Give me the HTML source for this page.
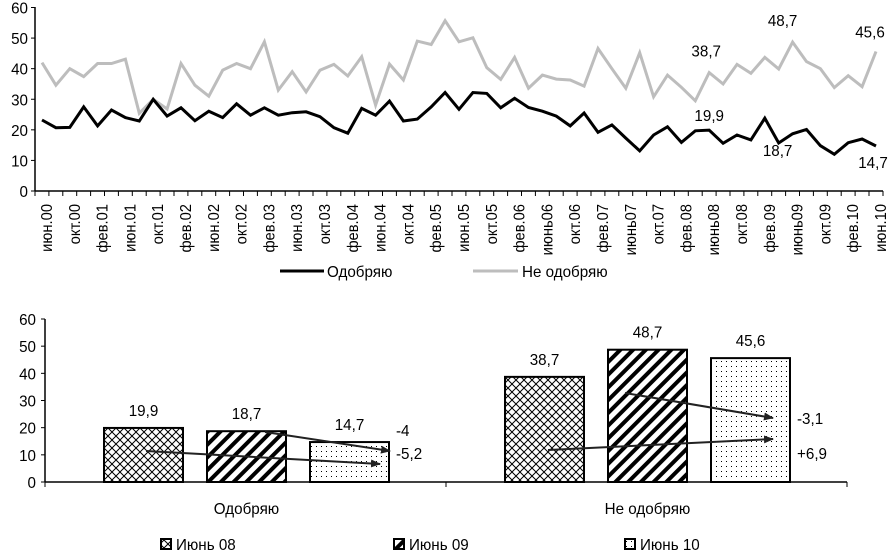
<!DOCTYPE html>
<html><head><meta charset="utf-8">
<style>
html,body{margin:0;padding:0;background:#fff;}
svg{display:block;font-family:"Liberation Sans",sans-serif;}
</style></head>
<body>
<svg id="c" width="888" height="554" viewBox="0 0 888 554" xmlns="http://www.w3.org/2000/svg">
<defs>
<pattern id="pX" width="8" height="8" patternUnits="userSpaceOnUse"><rect width="8" height="8" fill="#fff"/><path d="M0 0L8 8M8 0L0 8" stroke="#000" stroke-width="1"/></pattern>
<pattern id="pD" width="9" height="9" patternUnits="userSpaceOnUse" patternTransform="rotate(45)"><rect width="9" height="9" fill="#fff"/><rect width="4" height="9" fill="#000"/></pattern>
<pattern id="pS" width="5" height="5" patternUnits="userSpaceOnUse"><rect width="5" height="5" fill="#fff"/><rect x="1" y="1" width="1" height="1" fill="#000"/></pattern>
<marker id="ar" markerWidth="10" markerHeight="8" refX="9" refY="4" orient="auto" markerUnits="userSpaceOnUse"><path d="M0 0L10 4L0 8z" fill="#222"/></marker>
</defs>
<g id="topChart"></g>
<g id="botChart"></g>
</svg>
<script>
const months = ["июн.00","окт.00","фев.01","июн.01","окт.01","фев.02","июн.02","окт.02","фев.03","июн.03","окт.03","фев.04","июн.04","окт.04","фев.05","июн.05","окт.05","фев.06","июнь06","окт.06","фев.07","июнь07","окт.07","фев.08","июнь08","окт.08","фев.09","июнь09","окт.09","фев.10","июн.10"];
const approve = [23.2,20.7,20.8,27.5,21.3,26.5,24,22.9,30,24.5,27.2,23,26.1,24,28.5,24.8,27.2,24.8,25.6,25.9,24.3,20.7,18.9,27,24.8,29.4,22.9,23.5,27.5,32.2,26.7,32.2,31.9,27.2,30.3,27.3,26.1,24.5,21.3,25.5,19.2,21.6,17.3,13.1,18.3,21,15.9,19.7,19.9,15.6,18.3,16.7,23.8,15.7,18.7,20.1,14.8,12,15.8,17,14.7];
const disapprove = [42,34.6,40,37.4,41.7,41.7,43.1,25.4,30,26.8,41.7,34.6,31,39.5,41.7,40,48.8,33,39,32.4,39.5,41.4,37.6,43.9,28.1,41.5,36.3,49,47.9,55.7,48.8,50.1,40.3,36.5,43.7,33.6,37.9,36.6,36.3,34.3,46.6,40,33.6,45.2,30.8,37.9,33.9,29.5,38.7,35,41.4,38.5,43.7,39.9,48.7,42.3,40,33.8,37.7,34.1,45.6];
const yTicks = [0,10,20,30,40,50,60];
const callouts = [[48,"approve","19,9",0,-9],[54,"approve","18,7",-15,22],[60,"approve","14,7",-3,22],[48,"disapprove","38,7",-3,-16],[54,"disapprove","48,7",-10,-16],[60,"disapprove","45,6",-6,-14]];
const groups = ["Одобряю","Не одобряю"];
const periods = ["Июнь 08","Июнь 09","Июнь 10"];
const barApprove = [19.9,18.7,14.7];
const barDisapprove = [38.7,48.7,45.6];
const changes = ["-4","-5,2","-3,1","+6,9"];

const NS="http://www.w3.org/2000/svg";
const SX=0.95;
function mk(p,t,a,txt){const e=document.createElementNS(NS,t);for(const k in a)e.setAttribute(k,a[k]);if(txt!==undefined)e.textContent=txt;p.appendChild(e);return e;}
function txt(p,x,y,s,anchor,size,rot,sx){
  const k=sx||SX;
  const tr=rot?`translate(${x},${y}) rotate(-90) scale(${k},1)`:`translate(${x},${y}) scale(${k},1)`;
  return mk(p,'text',{x:0,y:0,transform:tr,'text-anchor':anchor||'start','font-size':size||16},s);
}
const topG=document.getElementById('topChart'), botG=document.getElementById('botChart');

// TOP CHART
const n=approve.length;
const tx=i=>42+i*(876-42)/(n-1);
const ty=v=>191-v*(191-7.5)/60;
let e;
e=mk(topG,'line',{x1:35,y1:7,x2:35,y2:191,stroke:'#000','stroke-width':1.5});


e=mk(topG,'line',{x1:35,y1:191,x2:883,y2:191,stroke:'#000','stroke-width':1.5});


yTicks.forEach(v=>{
  mk(topG,'line',{x1:31,x2:35,y1:ty(v),y2:ty(v),stroke:'#000'});
  e=txt(topG,28,ty(v)+6,String(v),'end',16);
  
  
});
for(let i=0;i<n;i++){const x=tx(i)-7;mk(topG,'line',{x1:x,x2:x,y1:191,y2:196,stroke:'#000'});}
mk(topG,'line',{x1:883,x2:883,y1:191,y2:196,stroke:'#000'});
months.forEach((m,k)=>{
  const x=tx(k*2)+10;
  e=txt(topG,x,204,m,'end',16,true,0.92);
  
  
});
const pts=arr=>arr.map((v,i)=>tx(i).toFixed(1)+','+ty(v).toFixed(1)).join(' ');
e=mk(topG,'polyline',{points:pts(disapprove),fill:'none',stroke:'#bdbdbd','stroke-width':3});


e=mk(topG,'polyline',{points:pts(approve),fill:'none',stroke:'#000','stroke-width':3});


callouts.forEach(c=>{
  const arr=c[1]==='approve'?approve:disapprove;
  e=txt(topG,tx(c[0])+c[3],ty(arr[c[0]])+c[4],c[2],'middle',16);
  
  
});
mk(topG,'line',{x1:280,x2:324,y1:271,y2:271,stroke:'#000','stroke-width':3});
e=txt(topG,327,277,'Одобряю','start',16);


mk(topG,'line',{x1:473,x2:518,y1:271,y2:271,stroke:'#bdbdbd','stroke-width':3});
e=txt(topG,522,277,'Не одобряю','start',16);



// BOTTOM CHART
const by=v=>482-v*(482-319)/60;
const gx=[104,505];
const bw=79, bstep=103;
const fills=['url(#pX)','url(#pD)','url(#pS)'];
e=mk(botG,'line',{x1:45,y1:319,x2:45,y2:482,stroke:'#000','stroke-width':1.5});


e=mk(botG,'line',{x1:45,y1:482,x2:847,y2:482,stroke:'#000','stroke-width':1.5});


[45,446,847].forEach(x=>mk(botG,'line',{x1:x,x2:x,y1:482,y2:487,stroke:'#000'}));
yTicks.forEach(v=>{
  mk(botG,'line',{x1:41,x2:45,y1:by(v),y2:by(v),stroke:'#000'});
  e=txt(botG,36,by(v)+6,String(v),'end',16);
  
  
});
[barApprove,barDisapprove].forEach((vals,g)=>{
  vals.forEach((v,j)=>{
    const x=gx[g]+j*bstep;
    e=mk(botG,'rect',{x:x,y:by(v),width:bw,height:482-by(v),fill:fills[j],stroke:'#000','stroke-width':2});
    
    
    e=txt(botG,x+bw/2,by(v)-12,String(v).replace('.',','),'middle',16);
    
    
  });
  e=txt(botG,gx[g]+bstep+bw/2,514,groups[g],'middle',16);
  
  
});
const arrows=[[265,432,390,451],[146,451,380,464],[625,393,773,418],[548,450,773,439]];
arrows.forEach(a=>{
  e=mk(botG,'line',{x1:a[0],y1:a[1],x2:a[2],y2:a[3],stroke:'#222','stroke-width':2,'marker-end':'url(#ar)'});
  
  
});
const chPos=[[396,436],[396,459],[797,424],[797,459]];
changes.forEach((c,i)=>{
  e=txt(botG,chPos[i][0],chPos[i][1],c,'start',16);
  
  
});
const lx=[161,394,625];
periods.forEach((p,j)=>{
  e=mk(botG,'rect',{x:lx[j],y:539,width:10,height:10,fill:fills[j],stroke:'#000','stroke-width':2});
  
  
  e=txt(botG,lx[j]+15,550,p,'start',16);
  
  
});
</script>
</body></html>
